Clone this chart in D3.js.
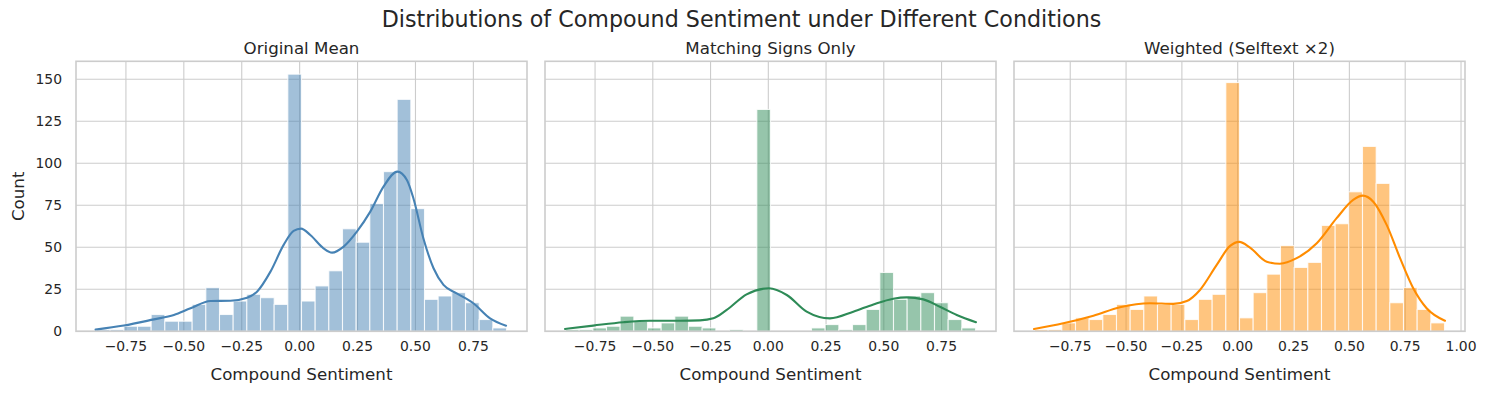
<!DOCTYPE html>
<html><head><meta charset="utf-8">
<script src="https://cdn.jsdelivr.net/npm/d3@7"></script>
<style>body{margin:0;background:#fff}text{font-family:"DejaVu Sans",sans-serif;fill:#262626}</style>
</head><body>
<svg id="c" width="1487" height="393"></svg>
<script>
// ---- data ----
const suptitle = "Distributions of Compound Sentiment under Different Conditions";
const titles = ["Original Mean", "Matching Signs Only", "Weighted (Selftext ×2)"];
const colors = ["#4682B4", "#2E8B57", "#FF8C00"];
const countsOriginal = [1,1,3,3,10,6,6,16,26,10,18,22,20,16,153,18,27,36,61,53,76,95,138,73,19,21,23,17,7,2];
const countsMatching = [1,1,2,3,9,6,2,5,9,3,2,0,1,0,132,0,0,0,2,4,1,4,13,35,19,21,23,17,7,2];
const countsWeighted = [1,1,5,8,7,10,16,13,21,16,16,7,19,22,148,8,23,34,51,38,41,63,64,83,110,88,17,26,13,5];
const rangeOriginal = [-0.877, 0.893];
const rangeMatching = [-0.878, 0.897];
const rangeWeighted = [-0.910, 0.926];
const kdeXOriginal = [-0.881,-0.759,-0.629,-0.543,-0.471,-0.385,-0.299,-0.227,-0.184,-0.126,-0.069,-0.026,0.006,0.046,0.103,0.140,0.190,0.247,0.305,0.362,0.422,0.463,0.491,0.534,0.578,0.621,0.678,0.750,0.822,0.891];
const kdeYOriginal = [1.0,3.4,7.1,9.7,13.7,18,18.2,20,23.6,35.5,51.4,59.7,61.1,57.3,49.4,46.8,50.4,59.3,71.2,86.1,95,90,79.2,55.4,37.5,27.6,22.6,16.7,7.7,3.3];
const kdeXMatching = [-0.880,-0.758,-0.628,-0.512,-0.382,-0.296,-0.238,-0.180,-0.094,0.003,0.080,0.166,0.267,0.368,0.455,0.541,0.599,0.671,0.743,0.816,0.899];
const kdeYMatching = [1.4,3.4,5.4,6.3,6.3,6.5,7.7,12.7,22,25.6,21.6,11.7,7.7,11.7,16,19.4,20.2,19,14.6,9.7,5.4];
const kdeXWeighted = [-0.912,-0.781,-0.646,-0.527,-0.393,-0.288,-0.228,-0.169,-0.094,-0.034,0.007,0.055,0.130,0.189,0.264,0.354,0.443,0.517,0.560,0.607,0.667,0.727,0.786,0.846,0.928];
const kdeYWeighted = [1.4,4.8,9.3,14.3,16.7,16.3,18,24.6,39.5,50.8,53.2,49.8,41.4,40.2,43.5,52.4,67.3,78.2,80.7,77.1,63.3,43.5,25.6,13.7,6.3];
const xTicksA = [-0.75,-0.5,-0.25,0,0.25,0.5,0.75];
const xTicksB = [-0.75,-0.5,-0.25,0,0.25,0.5,0.75,1.0];
const yTicks = [0,25,50,75,100,125,150];
const xLabel = "Compound Sentiment", yLabel = "Count";

const panels = [
  {title: titles[0], color: colors[0], counts: countsOriginal, range: rangeOriginal, kx: kdeXOriginal, ky: kdeYOriginal, ticks: xTicksA},
  {title: titles[1], color: colors[1], counts: countsMatching, range: rangeMatching, kx: kdeXMatching, ky: kdeYMatching, ticks: xTicksA},
  {title: titles[2], color: colors[2], counts: countsWeighted, range: rangeWeighted, kx: kdeXWeighted, ky: kdeYWeighted, ticks: xTicksB}
];

// ---- layout ----
const svg = d3.select("#c");
svg.append("rect").attr("width",1487).attr("height",393).attr("fill","#fff");
const lefts = [76, 545, 1014], pw = 451, topY = 61.3, bottomY = 331.3;
const maxCount = d3.max(panels, p => d3.max(p.counts));
const y = d3.scaleLinear().domain([0, maxCount * 1.05]).range([bottomY, topY]);
const fmt = d3.format(".2f");

svg.append("text").attr("x", 741.5).attr("y", 27).attr("text-anchor","middle")
  .style("font-size","22.2px").text(suptitle);

panels.forEach((p, i) => {
  const L = lefts[i], R = L + pw;
  const span = p.range[1] - p.range[0];
  const x = d3.scaleLinear().domain([p.range[0] - 0.05*span, p.range[1] + 0.05*span]).range([L, R]);
  const g = svg.append("g");
  // grid
  g.selectAll(".gx").data(p.ticks).join("line")
    .attr("x1", d => x(d)).attr("x2", d => x(d)).attr("y1", topY).attr("y2", bottomY)
    .attr("stroke","#cccccc").attr("stroke-width",1.1);
  g.selectAll(".gy").data(yTicks).join("line")
    .attr("x1", L).attr("x2", R).attr("y1", d => y(d)).attr("y2", d => y(d))
    .attr("stroke","#cccccc").attr("stroke-width",1.1);
  // bars
  const n = p.counts.length, w = span / n;
  g.selectAll(".bar").data(p.counts).join("rect")
    .attr("x", (d, k) => x(p.range[0] + k*w))
    .attr("width", (d, k) => x(p.range[0] + (k+1)*w) - x(p.range[0] + k*w))
    .attr("y", d => y(d)).attr("height", d => y(0) - y(d))
    .attr("fill", p.color).attr("fill-opacity", 0.5)
    .attr("stroke", "#fff").attr("stroke-width", 1.1).attr("stroke-opacity", 0.8);
  // kde
  const line = d3.line().x((d, k) => x(p.kx[k])).y(d => y(d)).curve(d3.curveMonotoneX);
  g.append("path").datum(p.ky).attr("d", line).attr("fill","none")
    .attr("stroke", p.color).attr("stroke-width", 2.1).attr("stroke-linecap","round");
  // spines
  g.append("rect").attr("x", L).attr("y", topY).attr("width", pw).attr("height", bottomY - topY)
    .attr("fill","none").attr("stroke","#cccccc").attr("stroke-width",1.6);
  // x tick labels
  g.selectAll(".xt").data(p.ticks).join("text")
    .attr("x", d => x(d)).attr("y", 351).attr("text-anchor","middle")
    .style("font-size","13.9px").text(d => fmt(d));
  g.append("text").attr("x", (L+R)/2).attr("y", 380).attr("text-anchor","middle")
    .style("font-size","16.67px").text(xLabel);
  g.append("text").attr("x", (L+R)/2).attr("y", 54).attr("text-anchor","middle")
    .style("font-size","16.67px").text(p.title);
  if (i === 0) {
    g.selectAll(".yt").data(yTicks).join("text")
      .attr("x", 62).attr("y", d => y(d) + 5).attr("text-anchor","end")
      .style("font-size","13.9px").text(d => d);
    g.append("text").attr("transform", `translate(24,${(topY+bottomY)/2}) rotate(-90)`)
      .attr("text-anchor","middle").style("font-size","16.67px").text(yLabel);
  }
});
</script>
</body></html>
